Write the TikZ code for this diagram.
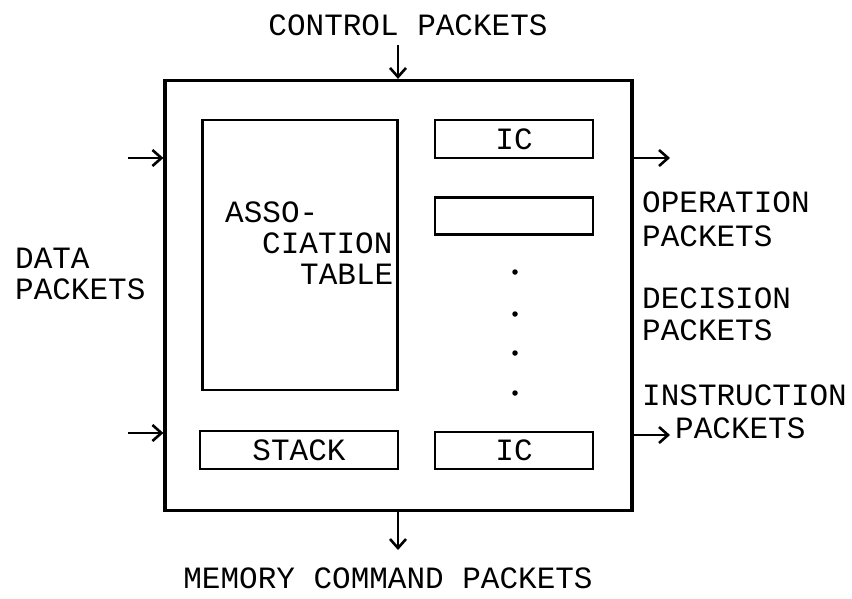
\documentclass[tikz,border=0pt]{standalone}
\usepackage{fontspec}
\setmainfont{Liberation Mono}
\usetikzlibrary{arrows.meta}
\begin{document}
\begin{tikzpicture}[x=1pt,y=-1pt,
  lbl/.style={inner sep=0pt,font=\fontsize{31}{33}\selectfont},
  unit/.style={draw,line width=2.8pt,inner sep=0pt,font=\fontsize{31}{33}\selectfont},
  arr/.style={line width=2.6pt,-{Straight Barb[length=9pt,width=16pt,line width=2.6pt]}},
  dotmark/.style={circle,fill,inner sep=0pt,minimum size=5.5pt}]
\useasboundingbox (0,0) rectangle (852,598);

% processor frame
\node[draw,line width=3.2pt,inner sep=0pt,minimum width=467pt,minimum height=430pt]
  (frame) at (398.5,295.5) {};

% inner units
\node[unit,minimum width=195pt,minimum height=270pt] (assoc) at (300,255) {};
\node[lbl,align=left,anchor=base west] (assoctxt) at (225,284)
  {ASSO-\\[-2pt]\hspace*{37pt}CIATION\\[-2pt]\hspace*{75pt}TABLE};
\node[unit,minimum width=158pt,minimum height=38pt] (ic1) at (514,139) {IC};
\node[unit,minimum width=158pt,minimum height=37pt] (blank) at (514,216) {};
\node[unit,minimum width=198pt,minimum height=38pt] (stack) at (299,450) {STACK};
\node[unit,minimum width=158pt,minimum height=37pt] (ic2) at (514,450.5) {IC};

% continuation dots
\node[dotmark] (d1) at (515,272) {};
\node[dotmark] (d2) at (515,314) {};
\node[dotmark] (d3) at (515,353) {};
\node[dotmark] (d4) at (515,393) {};

% labels
\node[lbl] (ctrl) at (408,25) {CONTROL PACKETS};
\node[lbl] (mem) at (388,578) {MEMORY COMMAND PACKETS};
\node[lbl,align=left,anchor=base west] (data) at (15,299) {DATA\\[-2pt]PACKETS};
\node[lbl,align=left,anchor=base west] (oper) at (642,246) {OPERATION\\[1pt]PACKETS};
\node[lbl,align=left,anchor=base west] (deci) at (642,340) {DECISION\\[-1pt]PACKETS};
\node[lbl,align=left,anchor=base west] (instr) at (642,438) {INSTRUCTION\\\hspace*{33pt}PACKETS};

% connector end points
\coordinate (cin) at (398,45);
\coordinate (min) at (398,550);
\coordinate (din1) at (128,158);
\coordinate (din2) at (128,433);
\coordinate (out1) at (670,158);
\coordinate (out2) at (670,435);

% packet flows
\draw[arr] (cin) -- (cin |- frame.north);
\draw[arr] (min |- frame.south) -- (min);
\draw[arr] (din1) -- (din1 -| frame.west);
\draw[arr] (din2) -- (din2 -| frame.west);
\draw[arr] (out1 -| frame.east) -- (out1);
\draw[arr] (out2 -| frame.east) -- (out2);
\end{tikzpicture}
\end{document}
